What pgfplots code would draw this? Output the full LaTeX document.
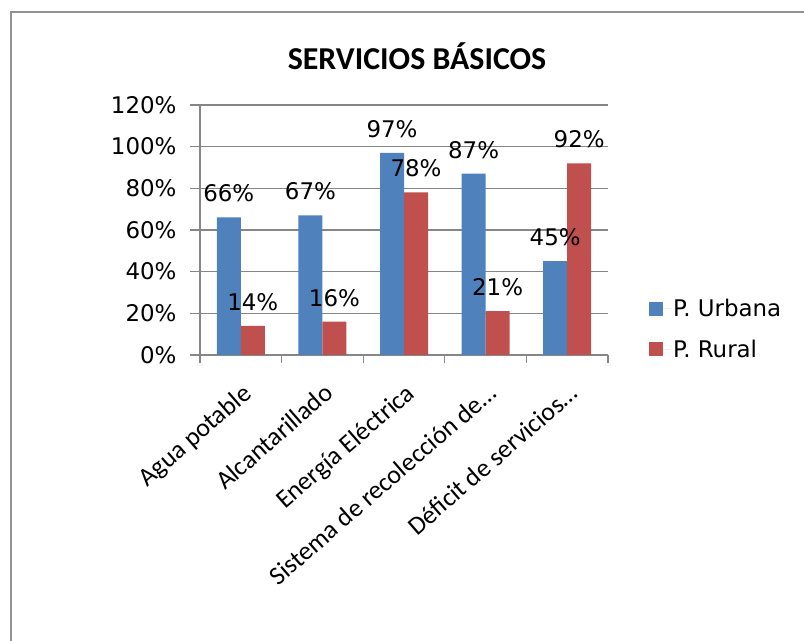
\documentclass[border=0pt]{standalone}
\usepackage{fontspec}
\setmainfont{DejaVu Sans}
\newfontfamily\calibri{Carlito}
\usepackage{pgfplots}
\usepackage{pgfplotstable}
\pgfplotsset{compat=1.18}
\definecolor{urbana}{HTML}{4F81BD}
\definecolor{rural}{HTML}{C0504D}
\definecolor{gridgray}{HTML}{868686}

% category index, urban %, rural %
\pgfplotstableread{
idx urbana rural
0 66 14
1 67 16
2 97 78
3 87 21
4 45 92
}\servicios

\begin{document}
\begin{tikzpicture}[x=1bp,y=1bp]
\useasboundingbox (0,0) rectangle (804,641);
\draw[gridgray!90, line width=2bp] (11,-5) -- (11,629) -- (810,629);
\node[font=\calibri\bfseries\fontsize{32}{38}\selectfont] at (417,585) {SERVICIOS BÁSICOS};
\begin{axis}[
    at={(200bp,286bp)}, anchor=south west,
    scale only axis, width=408bp, height=250bp,
    ybar=0pt, bar width=24bp,
    xmin=-0.5, xmax=4.5,
    ymin=0, ymax=120,
    axis x line*=bottom, axis y line*=left,
    axis line style={gridgray, line width=1.2bp, -},
    ymajorgrids, grid style={gridgray, line width=1.2bp},
    tick align=outside,
    major tick length=10bp, minor tick length=8bp,
    tick style={gridgray, line width=1.2bp},
    xtick={0,...,4},
    major x tick style={draw=none},
    minor xtick={-0.5,0.5,...,4.5},
    xticklabels={Agua potable\hspace{18bp}, Alcantarillado\hspace{18bp}, Energía Eléctrica\hspace{18bp}, Sistema de recolección de…, Déficit de servicios…},
    xticklabel style={font=\calibri\fontsize{26}{31}\selectfont, rotate=41, anchor=north east, inner sep=0pt, xshift=-11bp, yshift=-13bp},
    ytick={0,20,...,120},
    yticklabel={\pgfmathprintnumber{\tick}\%},
    yticklabel style={font=\fontsize{23}{27}\selectfont, xshift=-10bp},
    /pgf/number format/assume math mode=true,
    nodes near coords={\pgfmathprintnumber{\pgfplotspointmeta}\%},
    nodes near coords style={font=\fontsize{23}{27}\selectfont, anchor=south, inner sep=0pt, yshift=15bp, text=black},
    legend style={at={(1.1,0.104)}, anchor=west, draw=none, fill=none,
        font=\fontsize{23}{27}\selectfont, row sep=18bp, inner sep=0pt},
    legend cell align=left,
    legend image code/.code={\fill[#1] (0bp,-7bp) rectangle (14bp,7bp); \path (0bp,0bp) -- (22bp,0bp);},
]
\addplot[fill=urbana, draw=none] table[x=idx, y=urbana] {\servicios};
\addplot[fill=rural, draw=none] table[x=idx, y=rural] {\servicios};
\legend{P. Urbana, P. Rural}
\end{axis}
\end{tikzpicture}
\end{document}
